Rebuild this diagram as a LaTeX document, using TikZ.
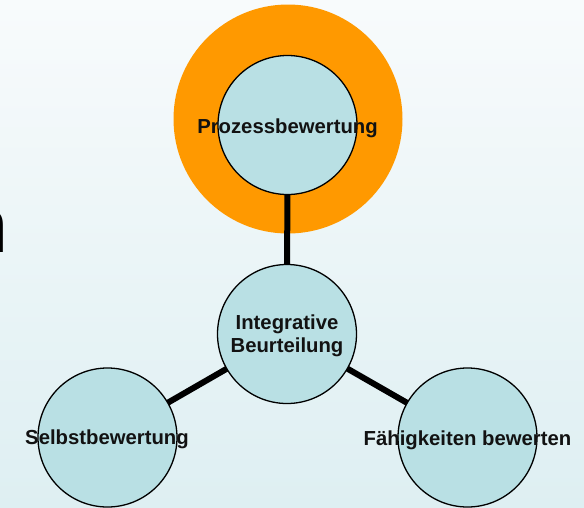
\documentclass[tikz,border=0pt]{standalone}
\usepackage{fontspec}
\setmainfont{Liberation Sans}
\pgfdeclarelayer{back}
\pgfdeclarelayer{links}
\pgfsetlayers{back,links,main}
\definecolor{bgtop}{RGB}{248,251,252}
\definecolor{bgbot}{RGB}{222,239,242}
\definecolor{halofill}{RGB}{255,153,0}
\definecolor{bubblefill}{RGB}{185,224,228}
\begin{document}
\begin{tikzpicture}[x=1pt,y=-1pt,
  bub/.style={circle,draw=black,line width=1.3pt,fill=bubblefill,minimum size=139pt,inner sep=0pt},
  halo/.style={circle,fill=halofill,minimum size=229pt,inner sep=0pt},
  lbl/.style={font=\bfseries\fontsize{20.3}{23}\selectfont,text=black!93,align=center,inner sep=0pt},
  conn/.style={line width=6pt}]
\useasboundingbox (0,0) rectangle (584,507);
\begin{pgfonlayer}{back}
\shade[top color=bgtop,bottom color=bgbot] (0,0) rectangle (584,507);
\begin{scope}
\clip (0,0) rectangle (584,507);
\node[font=\fontsize{77}{80}\selectfont,anchor=base east,inner sep=0pt,text=black] (frag) at (9,252) {n};
\end{scope}
\node[halo] (H) at (288,119) {};
\end{pgfonlayer}
\node[bub] (P) at (287.5,125) {};
\node[bub] (I) at (287,334) {};
\node[bub] (S) at (107.5,437.5) {};
\node[bub] (F) at (467.5,437.5) {};
\begin{pgfonlayer}{links}
\draw[conn] (I.center) -- (P.center);
\draw[conn] (I.center) -- (S.center);
\draw[conn] (I.center) -- (F.center);
\end{pgfonlayer}
\node[lbl,anchor=base] (tP) at (287.5,133) {Prozessbewertung};
\node[lbl] (tI) at (287,335.3) {Integrative\\Beurteilung};
\node[lbl,anchor=base] (tS) at (107,444) {Selbstbewertung};
\node[lbl,anchor=base] (tF) at (467.5,445) {Fähigkeiten bewerten};
\end{tikzpicture}
\end{document}
